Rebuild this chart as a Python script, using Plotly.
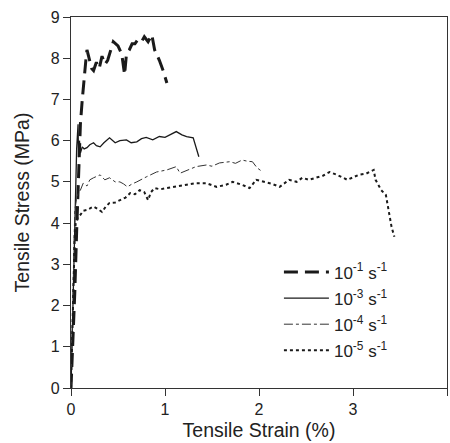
import plotly.graph_objects as go

# 10^-1 s^-1
x1 = [0, 0.02, 0.04, 0.06, 0.08, 0.10, 0.12, 0.14, 0.16, 0.17, 0.20, 0.22, 0.24, 0.27, 0.30, 0.33, 0.36,
      0.39, 0.41, 0.45, 0.50, 0.54, 0.57, 0.59, 0.62, 0.65, 0.68, 0.71, 0.75, 0.78, 0.82, 0.86, 0.89, 0.94, 0.98, 1.02]
y1 = [0, 1.0, 2.3, 3.8, 5.2, 6.4, 7.0, 7.6, 8.0, 8.2, 7.9, 7.75, 7.7, 7.9, 7.75, 8.05, 7.85,
      7.95, 8.1, 8.4, 8.3, 8.1, 7.6, 8.1, 8.2, 8.35, 8.35, 8.45, 8.4, 8.52, 8.4, 8.57, 8.2, 7.95, 7.7, 7.4]

# 10^-3 s^-1
x3 = [0, 0.01, 0.02, 0.03, 0.04, 0.05, 0.06, 0.075, 0.08, 0.09, 0.10, 0.12, 0.14, 0.17, 0.20, 0.24, 0.27,
      0.31, 0.35, 0.41, 0.47, 0.52, 0.59, 0.64, 0.70, 0.75, 0.80, 0.87, 0.94, 1.00, 1.05, 1.12, 1.18,
      1.23, 1.30, 1.33, 1.36]
y3 = [0, 1.0, 2.2, 3.4, 4.5, 5.3, 5.8, 6.4, 5.6, 6.0, 5.7, 5.85, 5.8, 5.83, 5.9, 5.95, 5.88,
      5.85, 5.95, 6.07, 5.95, 6.0, 6.02, 5.95, 5.97, 6.05, 6.08, 6.02, 6.1, 6.08, 6.14, 6.22, 6.14,
      6.1, 6.07, 5.85, 5.61]

# 10^-4 s^-1
x4 = [0, 0.01, 0.02, 0.03, 0.04, 0.06, 0.08, 0.10, 0.13, 0.17, 0.20, 0.24, 0.31, 0.36, 0.41, 0.47, 0.52,
      0.56, 0.60, 0.65, 0.70, 0.80, 0.91, 1.02, 1.12, 1.16, 1.24, 1.33, 1.44, 1.50, 1.58, 1.69, 1.75,
      1.82, 1.88, 1.93, 1.98, 2.04]
y4 = [0, 1.2, 2.5, 3.6, 4.3, 4.6, 4.75, 4.8, 4.97, 4.9, 5.05, 5.1, 5.17, 5.05, 5.1, 5.0, 5.0,
      4.95, 4.88, 4.95, 5.0, 5.12, 5.24, 5.29, 5.37, 5.21, 5.29, 5.37, 5.41, 5.38, 5.46, 5.49, 5.45,
      5.53, 5.5, 5.49, 5.34, 5.24]

# 10^-5 s^-1
x5 = [0, 0.01, 0.02, 0.03, 0.04, 0.05, 0.075, 0.10, 0.13, 0.17, 0.24, 0.28, 0.33, 0.37, 0.41, 0.47, 0.52,
      0.58, 0.63, 0.68, 0.73, 0.78, 0.82, 0.85, 0.89, 0.95, 1.02, 1.12, 1.23, 1.33, 1.44, 1.50, 1.55,
      1.65, 1.72, 1.82, 1.90, 1.97, 2.06, 2.14, 2.22, 2.32, 2.40, 2.46, 2.53, 2.60, 2.68, 2.75, 2.83,
      2.94, 3.00, 3.06, 3.14, 3.22, 3.24, 3.30, 3.35, 3.38, 3.41, 3.44]
y5 = [0, 1.0, 2.1, 3.1, 3.7, 4.0, 4.15, 4.2, 4.3, 4.32, 4.4, 4.35, 4.27, 4.4, 4.49, 4.5, 4.56,
      4.62, 4.73, 4.7, 4.8, 4.75, 4.56, 4.75, 4.85, 4.82, 4.85, 4.88, 4.93, 4.97, 4.97, 4.92, 4.88,
      4.93, 5.0, 4.93, 4.85, 5.05, 5.0, 4.95, 4.88, 5.05, 5.0, 5.1, 5.05, 5.1, 5.15, 5.24, 5.17,
      5.05, 5.12, 5.17, 5.2, 5.29, 5.05, 4.8, 4.68, 4.32, 3.91, 3.67]

labels = ["10<sup>-1</sup> s<sup>-1</sup>", "10<sup>-3</sup> s<sup>-1</sup>",
          "10<sup>-4</sup> s<sup>-1</sup>", "10<sup>-5</sup> s<sup>-1</sup>"]

x_ticks = [0, 1, 2, 3, 4]
y_ticks = [0, 1, 2, 3, 4, 5, 6, 7, 8, 9]

fig = go.Figure()
fig.add_trace(go.Scatter(x=x1, y=y1, mode="lines", name=labels[0], legendgroup="a",
                         line=dict(color="#1a1a1a", width=3, dash="14px,7px")))
fig.add_trace(go.Scatter(x=x3, y=y3, mode="lines", name=labels[1], legendgroup="b",
                         line=dict(color="#1a1a1a", width=1.3)))
fig.add_trace(go.Scatter(x=x4, y=y4, mode="lines", name=labels[2], legendgroup="c",
                         line=dict(color="#333333", width=1, dash="dashdot")))
fig.add_trace(go.Scatter(x=x5, y=y5, mode="lines", name=labels[3], legendgroup="d",
                         line=dict(color="#1a1a1a", width=2, dash="dot")))

axis_common = dict(showline=True, linecolor="#333333", linewidth=1.3, mirror=True,
                   ticks="outside", ticklen=7, tickcolor="#333333", showgrid=False, zeroline=False,
                   tickfont=dict(size=16, color="#222222"))

fig.update_layout(
    width=450, height=443,
    margin=dict(l=71, r=3, t=17, b=55),
    paper_bgcolor="white", plot_bgcolor="white",
    font=dict(family="Liberation Sans, Arial, sans-serif", color="#222222"),
    xaxis=dict(range=[0, 4], tickvals=x_ticks,
               title=dict(text="Tensile Strain (%)", font=dict(size=19.5), standoff=6), **axis_common),
    yaxis=dict(range=[0, 9], tickvals=y_ticks,
               title=dict(text="Tensile Stress (MPa)", font=dict(size=19.5), standoff=15), **axis_common),
    legend=dict(x=0.553, y=0.36, xanchor="left", yanchor="top", bgcolor="rgba(0,0,0,0)",
                font=dict(size=17), itemwidth=45, tracegroupgap=1),
    showlegend=True,
)

fig.write_html("out.html", config={"displayModeBar": False},
               post_script="document.body.style.margin='0px';")
